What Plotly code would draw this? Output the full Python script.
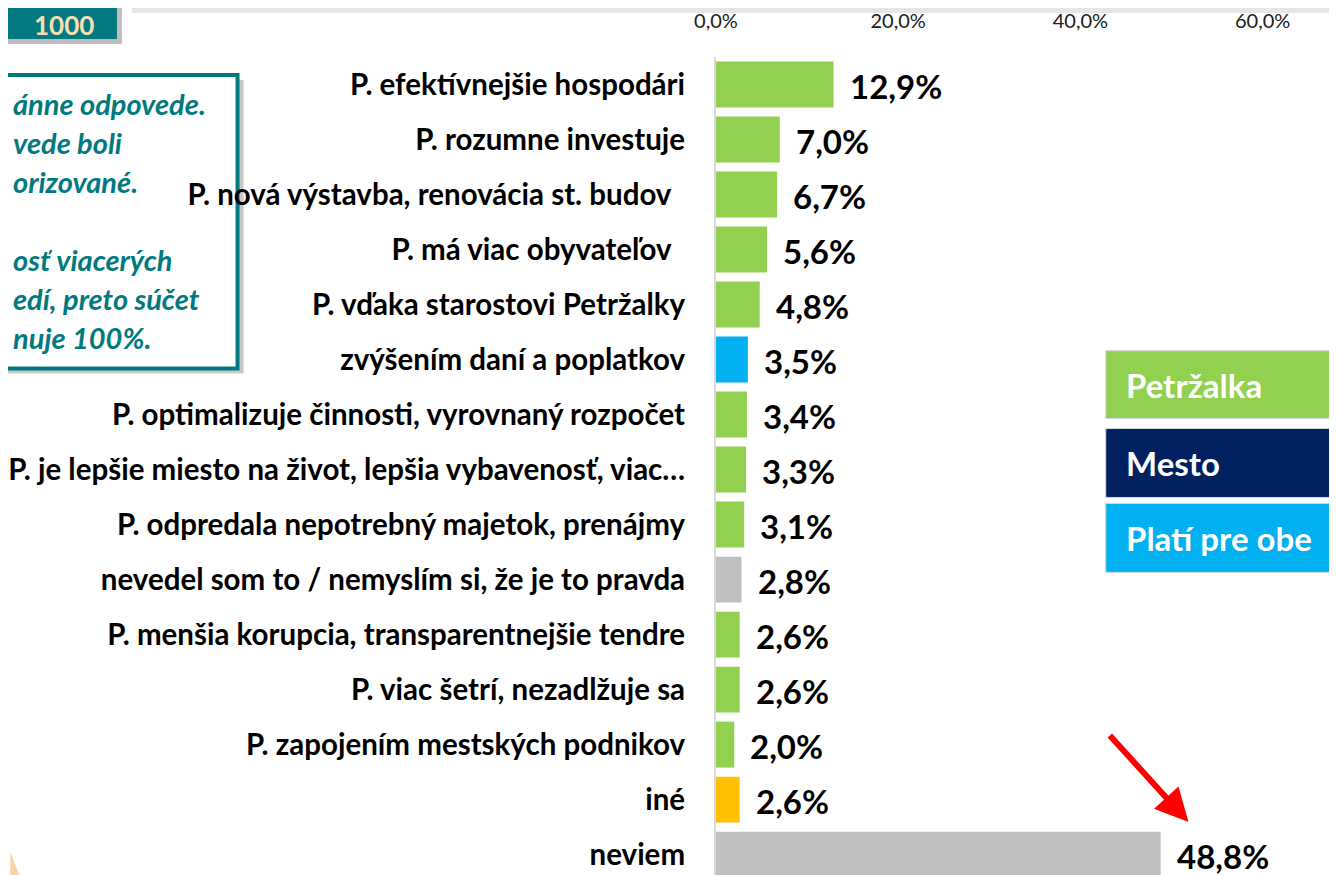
import plotly.graph_objects as go

# ---------------- data ----------------
categories = [
    "P. efektívnejšie hospodári",
    "P. rozumne investuje",
    "P. nová výstavba, renovácia st. budov\u00a0\u00a0",
    "P. má viac obyvateľov\u00a0\u00a0",
    "P. vďaka starostovi Petržalky",
    "zvýšením daní a poplatkov",
    "P. optimalizuje činnosti, vyrovnaný rozpočet",
    "P. je lepšie miesto na život, lepšia vybavenosť, viac…",
    "P. odpredala nepotrebný majetok, prenájmy",
    "nevedel som to / nemyslím si, že je to pravda",
    "P. menšia korupcia, transparentnejšie tendre",
    "P. viac šetrí, nezadlžuje sa",
    "P. zapojením mestských podnikov",
    "iné",
    "neviem",
]
values = [12.9, 7.0, 6.7, 5.6, 4.8, 3.5, 3.4, 3.3, 3.1, 2.8, 2.6, 2.6, 2.0, 2.6, 48.8]
groups = ["Petržalka", "Petržalka", "Petržalka", "Petržalka", "Petržalka", "Platí pre obe",
          "Petržalka", "Petržalka", "Petržalka", "nevie", "Petržalka", "Petržalka",
          "Petržalka", "iné", "nevie"]
x_ticks = [0, 20, 40, 60]
x_ticktext = ["0,0%", "20,0%", "40,0%", "60,0%"]
legend_items = ["Petržalka", "Mesto", "Platí pre obe"]
note_lines = ["ánne odpovede.", "vede boli", "orizované.", "", "osť viacerých",
              "edí, preto súčet", "nuje 100%."]
sample_label = "1000"

# ---------------- style ----------------
group_colors = {
    "Petržalka": "#92D050",
    "Mesto": "#002060",
    "Platí pre obe": "#00B0F0",
    "nevie": "#BFBFBF",
    "iné": "#FFC000",
}
TEAL = "#00797F"
FONT = "Lato"
OFF = 8                      # page body margin
W, H = 1337 - OFF, 875 - OFF
ML, MT = 714 - OFF, 56 - OFF
PW, PH = W - ML, H - MT


def px2x(px):               # window pixel -> paper x
    return (px - OFF - ML) / PW


def py2y(py):               # window pixel -> paper y
    return 1 - (py - OFF - MT) / PH


fig = go.Figure()
fig.add_trace(go.Bar(
    orientation="h",
    y=categories,
    x=values,
    marker=dict(color=[group_colors[g] for g in groups], line=dict(width=0)),
    hoverinfo="skip",
))

annotations = []
for c, v in zip(categories, values):
    annotations.append(dict(
        x=v, y=c, xref="x", yref="y", xanchor="left", yanchor="middle",
        xshift=14, yshift=-1, showarrow=False,
        text=f"{v:.1f}".replace(".", ",") + "%",
        font=dict(family=FONT, size=33, color="#000000", weight="bold"),
    ))

shapes = []
# top faint line
shapes.append(dict(type="rect", xref="paper", yref="paper",
                   x0=px2x(128), x1=px2x(1345), y0=py2y(12), y1=py2y(0),
                   fillcolor="#E6E6E6", line=dict(width=0), layer="below"))
# "1000" box with shadow
shapes.append(dict(type="rect", xref="paper", yref="paper",
                   x0=px2x(-10), x1=px2x(118), y0=py2y(43), y1=py2y(-10),
                   fillcolor="#BDBDBD", line=dict(width=0), layer="below"))
shapes.append(dict(type="rect", xref="paper", yref="paper",
                   x0=px2x(-10), x1=px2x(113), y0=py2y(38), y1=py2y(-10),
                   fillcolor="#007A80", line=dict(width=0), layer="below"))
annotations.append(dict(x=px2x(60), y=py2y(24), xref="paper", yref="paper",
                        xanchor="center", yanchor="middle", showarrow=False,
                        text=sample_label, borderpad=0,
                        font=dict(family=FONT, size=26, color="#F8DDB4", weight="bold")))
# note box with shadow
shapes.append(dict(type="rect", xref="paper", yref="paper",
                   x0=px2x(-10), x1=px2x(240), y0=py2y(373), y1=py2y(79),
                   fillcolor="#C8C8C8", line=dict(width=0), layer="below"))
shapes.append(dict(type="rect", xref="paper", yref="paper",
                   x0=px2x(-10), x1=px2x(234), y0=py2y(368), y1=py2y(74),
                   fillcolor="#FFFFFF", line=dict(color=TEAL, width=4), layer="below"))
for i, line in enumerate(note_lines):
    if not line:
        continue
    annotations.append(dict(x=px2x(OFF - 1), y=py2y(103 + 39 * i), xref="paper", yref="paper",
                            xanchor="left", yanchor="middle", showarrow=False,
                            text=f"<i>{line}</i>",
                            font=dict(family=FONT, size=29, color=TEAL, weight="bold")))
# legend boxes
legend_pos = [(350, 418), (428, 497), (503, 572)]
for name, (t, b) in zip(legend_items, legend_pos):
    shapes.append(dict(type="rect", xref="paper", yref="paper",
                       x0=px2x(1105), x1=px2x(1345), y0=py2y(b), y1=py2y(t),
                       fillcolor=group_colors[name], line=dict(color="#D0D8E8", width=1),
                       layer="above"))
    annotations.append(dict(x=px2x(1123), y=py2y((t + b) / 2), xref="paper", yref="paper",
                            xanchor="left", yanchor="middle", showarrow=False,
                            text=name,
                            font=dict(family=FONT, size=33, color="#FFFFFF", weight="bold")))
# bottom-left orange sliver
shapes.append(dict(type="path", xref="paper", yref="paper",
                   path=f"M {px2x(6)},{py2y(880)} L {px2x(6)},{py2y(852)} L {px2x(17)},{py2y(880)} Z",
                   fillcolor="#F9D3A5", line=dict(width=0), layer="below"))
# red arrow
annotations.append(dict(x=px2x(1188), y=py2y(822), xref="paper", yref="paper",
                        ax=-80, ay=-88, axref="pixel", ayref="pixel",
                        showarrow=True, text="", arrowhead=2, arrowsize=1.1,
                        arrowwidth=6, arrowcolor="#FF0000"))

fig.update_layout(
    width=W, height=H,
    margin=dict(l=ML, r=0, t=MT, b=0, pad=0),
    paper_bgcolor="#FFFFFF", plot_bgcolor="#FFFFFF",
    showlegend=False,
    bargap=0.165,
    font=dict(family=FONT, color="#000000"),
    xaxis=dict(
        side="top", range=[0, PW / 9.14], tickvals=x_ticks, ticktext=x_ticktext,
        showgrid=False, zeroline=False, showline=False, ticks="",
        ticklabelstandoff=24,
        tickfont=dict(family=FONT, size=20, color="#202020"),
    ),
    yaxis=dict(
        type="category", categoryorder="array", categoryarray=categories,
        range=[14.37, -0.5], showgrid=False, zeroline=False,
        showline=True, linecolor="#D9D9D9", linewidth=2, ticks="",
        ticklabelstandoff=23,
        tickfont=dict(family=FONT, size=29.5, color="#000000", weight="bold"),
    ),
    shapes=shapes,
    annotations=annotations,
)

fig.write_html("out.html")
